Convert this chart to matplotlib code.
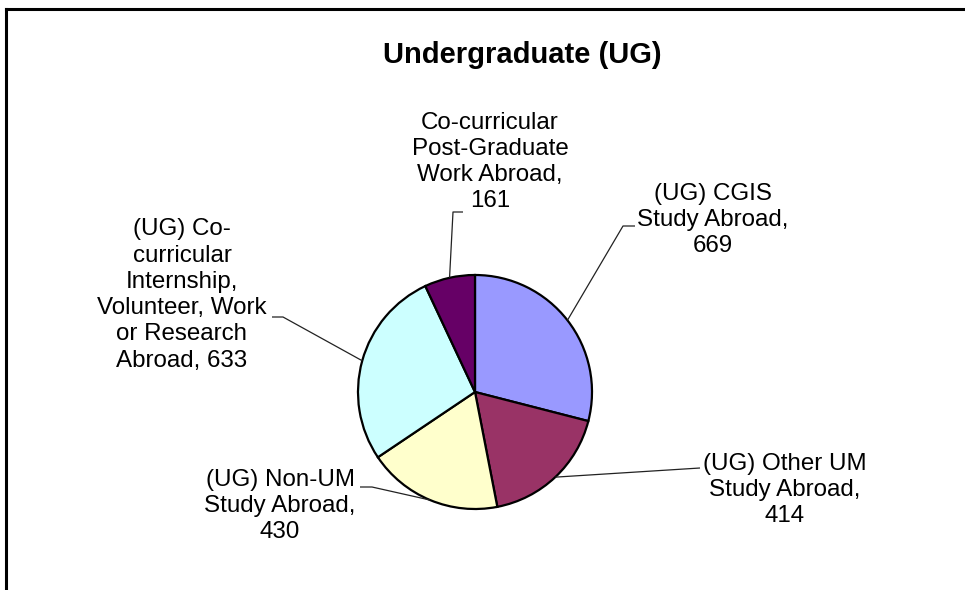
import numpy as np
import matplotlib
matplotlib.use("Agg")
import matplotlib.pyplot as plt

# slices, clockwise from 12 o'clock
labels = [
    "(UG) CGIS\nStudy Abroad,\n669",
    "(UG) Other UM\nStudy Abroad,\n414",
    "(UG) Non-UM\nStudy Abroad,\n430",
    "(UG) Co-\ncurricular\nInternship,\nVolunteer, Work\nor Research\nAbroad, 633",
    "Co-curricular\nPost-Graduate\nWork Abroad,\n161",
]
values = [669, 414, 430, 633, 161]
colors = ["#9999FF", "#993366", "#FFFFCC", "#CCFFFF", "#660066"]

W, H = 965, 590
plt.rcParams['font.family'] = ['Liberation Sans', 'DejaVu Sans']

fig = plt.figure(figsize=(W / 100, H / 100), dpi=100)
ax = fig.add_axes([0, 0, 1, 1])

cx, cy, r = 475, H - 392, 117
wedges, _ = ax.pie(values, colors=colors, startangle=90, counterclock=False,
                   center=(cx, cy), radius=r, frame=True,
                   wedgeprops=dict(edgecolor='black', linewidth=1.6))
ax.set_xlim(0, W)
ax.set_ylim(0, H)
ax.set_aspect('equal')
ax.axis('off')

# label block centres and leader elbows (pixel coords, y from top)
text_pos = [(713, 220), (785, 490), (280, 506), (182, 295), (490, 162)]
elbows = [
    [(623, 226), (635, 226)],
    [(700, 468)],
    [(372, 487), (360, 487)],
    [(283, 317), (272, 317)],
    [(453, 212), (463, 212)],
]

for w, lab, (tx, ty), elb in zip(wedges, labels, text_pos, elbows):
    mid = np.deg2rad((w.theta1 + w.theta2) / 2)
    ex, ey = cx + r * np.cos(mid), cy + r * np.sin(mid)
    xs = [ex] + [p[0] for p in elb]
    ys = [ey] + [H - p[1] for p in elb]
    ax.plot(xs, ys, color='#222222', lw=0.9, solid_capstyle='butt')
    ax.text(tx, H - ty, lab, ha='center', va='center', fontsize=17.4,
            linespacing=1.25, color='black')

ax.text(522, H - 55, "Undergraduate (UG)", ha='center', va='center',
        fontsize=21, fontweight='bold')

# chart border (left and top edges visible)
ax.plot([6, 6], [0, H - 9], color='black', lw=2.2, solid_capstyle='projecting')
ax.plot([6, W], [H - 9, H - 9], color='black', lw=2.2, solid_capstyle='projecting')

fig.savefig("out.png", dpi=100)
